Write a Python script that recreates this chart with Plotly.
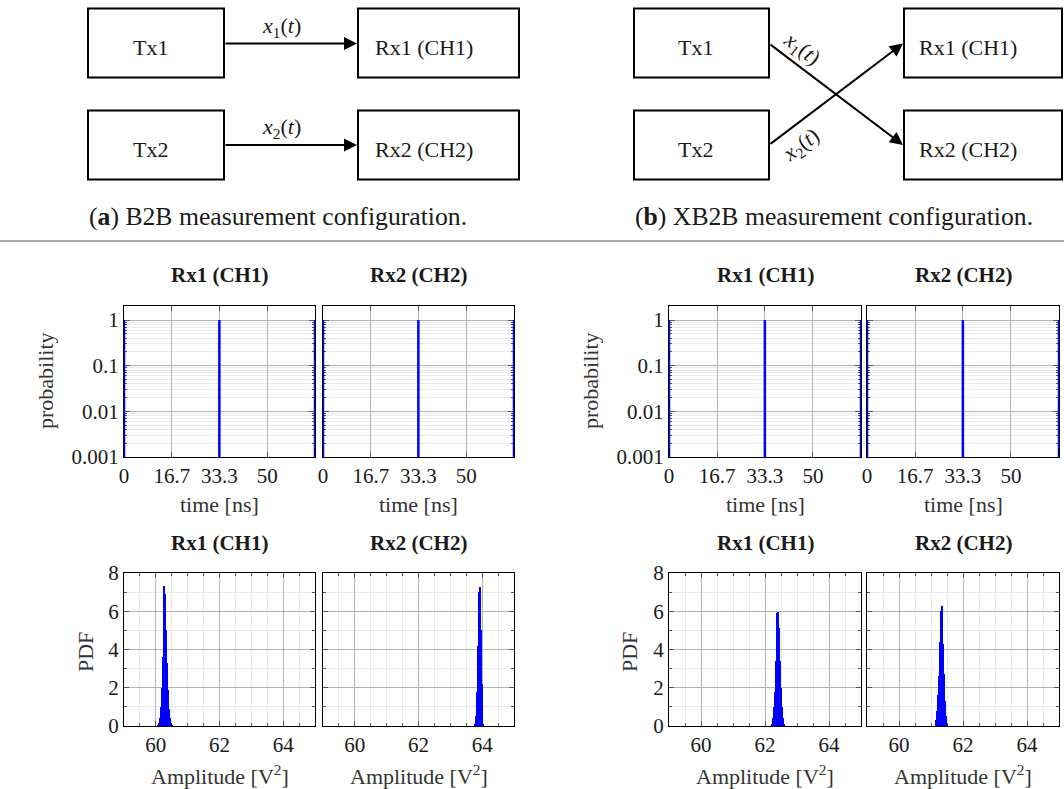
import plotly.graph_objects as go

W, H = 1064, 789
FONT = "Liberation Serif"
TXT = "#1a1a1a"
BLUE = "#0000ff"

# ---------------- data ----------------
time_tick_vals = [0, 16.7, 33.3, 50]
time_tick_text = ["0", "16.7", "33.3", "50"]
time_range = [0, 66.7]
impulse_times_ns = [0, 33.3, 66.7]
impulse_prob = [1, 1, 1]
prob_floor = 0.001
prob_tick_vals = [0.001, 0.01, 0.1, 1]
prob_tick_text = ["0.001", "0.01", "0.1", "1"]

bin_width = 0.03
amp_b2b_rx1 = [60.06, 60.09, 60.12, 60.15, 60.18, 60.21, 60.24, 60.27, 60.30, 60.33,
               60.36, 60.39, 60.42, 60.45, 60.48, 60.51]
pdf_b2b_rx1 = [0.05, 0.15, 0.4, 1.0, 2.0, 3.6, 6.9, 7.33, 6.9, 5.0,
               3.3, 1.9, 0.9, 0.4, 0.15, 0.05]
amp_b2b_rx2 = [63.77, 63.80, 63.83, 63.86, 63.89, 63.92, 63.95, 63.98, 64.01, 64.04]
pdf_b2b_rx2 = [0.1, 0.5, 1.8, 4.2, 7.0, 7.26, 5.0, 2.2, 0.6, 0.1]
amp_xb2b_rx1 = [62.23, 62.26, 62.29, 62.32, 62.35, 62.38, 62.41, 62.44, 62.47, 62.50,
                62.53, 62.56, 62.59]
pdf_xb2b_rx1 = [0.1, 0.4, 1.0, 1.8, 3.4, 5.9, 5.95, 5.1, 3.4, 2.0, 1.0, 0.4, 0.1]
amp_xb2b_rx2 = [61.14, 61.17, 61.20, 61.23, 61.26, 61.29, 61.32, 61.35, 61.38, 61.41,
                61.44, 61.47, 61.50]
pdf_xb2b_rx2 = [0.1, 0.3, 0.8, 1.6, 2.6, 4.4, 6.0, 6.25, 4.3, 2.7, 1.3, 0.5, 0.1]

amp_range = [59, 65]
pdf_range = [0, 8]

panel_titles = ["Rx1 (CH1)", "Rx2 (CH2)", "Rx1 (CH1)", "Rx2 (CH2)"]


def px(x):
    return x / W


def py(y):
    return 1 - y / H


# ---------------- layout geometry (pixels) ----------------
cols = [(124, 315), (323, 514), (669, 861), (867, 1059)]
row_time = (306, 457)
row_pdf = (573, 726)

fig = go.Figure()

# time impulse traces
for i in range(4):
    xs, ys = [], []
    for t, p in zip(impulse_times_ns, impulse_prob):
        xs += [t, t, None]
        ys += [prob_floor, p, None]
    ax = "" if i == 0 else str(i + 1)
    fig.add_trace(go.Scatter(x=xs, y=ys, mode="lines", line=dict(color=BLUE, width=2.5),
                             xaxis="x" + ax, yaxis="y" + ax, cliponaxis=False,
                             showlegend=False, hoverinfo="skip"))

hist = [(amp_b2b_rx1, pdf_b2b_rx1), (amp_b2b_rx2, pdf_b2b_rx2),
        (amp_xb2b_rx1, pdf_xb2b_rx1), (amp_xb2b_rx2, pdf_xb2b_rx2)]
for i, (a, p) in enumerate(hist):
    n = str(i + 5)
    fig.add_trace(go.Bar(x=a, y=p, width=bin_width, marker=dict(color=BLUE, line=dict(width=0)),
                         xaxis="x" + n, yaxis="y" + n, showlegend=False, hoverinfo="skip"))

MAJ_GRID = "#b3b3b3"
MIN_GRID = "#ebebeb"
TICKC = "#555555"
tickfont = dict(family=FONT, size=21, color=TXT)

layout = dict(
    width=W, height=H, margin=dict(l=0, r=0, t=0, b=0, pad=0, autoexpand=False),
    paper_bgcolor="white", plot_bgcolor="white",
    bargap=0, barmode="overlay", showlegend=False,
    font=dict(family=FONT, color=TXT),
    template="none",
)

for i, (x0, x1) in enumerate(cols):
    # time row
    n = "" if i == 0 else str(i + 1)
    layout["xaxis" + n] = dict(
        domain=[px(x0), px(x1)], anchor="y" + n, range=time_range,
        tickmode="array", tickvals=time_tick_vals, ticktext=time_tick_text,
        ticks="inside", ticklen=5, tickcolor=TICKC, showgrid=True, gridcolor=MAJ_GRID,
        showline=True, linecolor="black", linewidth=1, mirror="allticks", automargin=False,
        zeroline=False, layer="below traces", tickfont=tickfont, fixedrange=True)
    layout["yaxis" + n] = dict(
        domain=[py(row_time[1]), py(row_time[0])], anchor="x" + n, type="log",
        range=[-3, 0.307], tickmode="array", tickvals=prob_tick_vals, ticktext=prob_tick_text,
        ticks="inside", ticklen=6, tickcolor=TICKC, showgrid=True, gridcolor=MAJ_GRID,
        minor=dict(ticks="inside", ticklen=3, tickcolor=TICKC, showgrid=True,
                   gridcolor=MIN_GRID, dtick="D1"),
        showline=True, linecolor="black", linewidth=1, mirror="allticks", automargin=False,
        zeroline=False, layer="below traces", tickfont=tickfont,
        showticklabels=(i % 2 == 0), fixedrange=True)
    # pdf row
    m = str(i + 5)
    layout["xaxis" + m] = dict(
        domain=[px(x0), px(x1)], anchor="y" + m, range=amp_range,
        tickmode="linear", tick0=60, dtick=2,
        ticks="inside", ticklen=5, tickcolor=TICKC, showgrid=True, gridcolor=MAJ_GRID,
        minor=dict(tickmode="linear", tick0=59, dtick=0.5, ticks="inside", ticklen=3,
                   tickcolor=TICKC, showgrid=True, gridcolor=MIN_GRID),
        showline=True, linecolor="black", linewidth=1, mirror="allticks", automargin=False,
        zeroline=False, layer="below traces", tickfont=tickfont, fixedrange=True)
    layout["yaxis" + m] = dict(
        domain=[py(row_pdf[1]), py(row_pdf[0])], anchor="x" + m, range=pdf_range,
        tickmode="linear", tick0=0, dtick=2,
        ticks="inside", ticklen=5, tickcolor=TICKC, showgrid=True, gridcolor=MAJ_GRID,
        minor=dict(tickmode="linear", tick0=0, dtick=1, ticks="inside", ticklen=3,
                   tickcolor=TICKC, showgrid=True, gridcolor=MIN_GRID),
        showline=True, linecolor="black", linewidth=1, mirror="allticks", automargin=False,
        zeroline=False, layer="below traces", tickfont=tickfont,
        showticklabels=(i % 2 == 0), fixedrange=True)

fig.update_layout(**layout)

ann = []
shapes = []


def text(x, y, s, size, angle=0, xanchor="center", bold=False, color=TXT):
    if bold:
        s = "<b>" + s + "</b>"
    ann.append(dict(x=px(x), y=py(y), xref="paper", yref="paper", text=s, showarrow=False,
                    font=dict(family=FONT, size=size, color=color), textangle=angle,
                    xanchor=xanchor, yanchor="middle"))


# panel titles and axis titles
for i, (x0, x1) in enumerate(cols):
    cx = (x0 + x1) / 2
    text(cx, 275, panel_titles[i], 21, bold=True)
    text(cx, 543, panel_titles[i], 21, bold=True)
    text(cx, 505, "time [ns]", 22, color="#333333")
    text(cx, 775, "Amplitude [V<sup>2</sup>]", 22, color="#333333")
for xl in (45, 590):
    text(xl, 381, "probability", 22, angle=-90, color="#333333")
for xl in (85, 629):
    text(xl, 652, "PDF", 22, angle=-90, color="#333333")

# ---------------- block diagrams ----------------
def box(x0, y0, x1, y1):
    shapes.append(dict(type="rect", xref="paper", yref="paper", x0=px(x0), x1=px(x1),
                       y0=py(y1), y1=py(y0), line=dict(color="black", width=2)))


def arrow(xt, yt, xh, yh):
    ann.append(dict(x=px(xh), y=py(yh), xref="paper", yref="paper", text="", showarrow=True,
                    ax=xt - xh, ay=yt - yh, axref="pixel", ayref="pixel",
                    arrowhead=2, arrowsize=1.3, arrowwidth=2, arrowcolor="black",
                    standoff=0, startstandoff=0))


r1 = (8.5, 77.5)
r2 = (110.5, 179.5)
# (a)
box(88, r1[0], 224, r1[1]); box(88, r2[0], 224, r2[1])
box(358, r1[0], 519, r1[1]); box(358, r2[0], 519, r2[1])
arrow(224, 43.5, 357, 43.5)
arrow(224, 145, 357, 145)
text(150, 48, "Tx1", 22); text(150, 150, "Tx2", 22)
text(373, 48, "Rx1 (CH1)", 22, xanchor="left"); text(373, 150, "Rx2 (CH2)", 22, xanchor="left")
text(281, 27, "<i>x</i><sub>1</sub>(<i>t</i>)", 22)
text(281, 128, "<i>x</i><sub>2</sub>(<i>t</i>)", 22)
text(278, 217, "(<b>a</b>) B2B measurement configuration.", 25.7)
# (b)
box(634, r1[0], 769, r1[1]); box(634, r2[0], 769, r2[1])
box(904, r1[0], 1062, r1[1]); box(904, r2[0], 1062, r2[1])
arrow(769, 43.5, 903, 145)
arrow(769, 145, 903, 43.5)
text(695, 48, "Tx1", 22); text(695, 150, "Tx2", 22)
text(917, 48, "Rx1 (CH1)", 22, xanchor="left"); text(917, 150, "Rx2 (CH2)", 22, xanchor="left")
text(801, 49, "<i>x</i><sub>1</sub>(<i>t</i>)", 22, angle=37)
text(801, 146, "<i>x</i><sub>2</sub>(<i>t</i>)", 22, angle=-37)
text(834, 217, "(<b>b</b>) XB2B measurement configuration.", 25.7)

shapes.append(dict(type="line", xref="paper", yref="paper", x0=0, x1=1, y0=py(241), y1=py(241),
                   line=dict(color="#555555", width=1)))

fig.update_layout(annotations=ann, shapes=shapes)
fig.write_html("out.html")
